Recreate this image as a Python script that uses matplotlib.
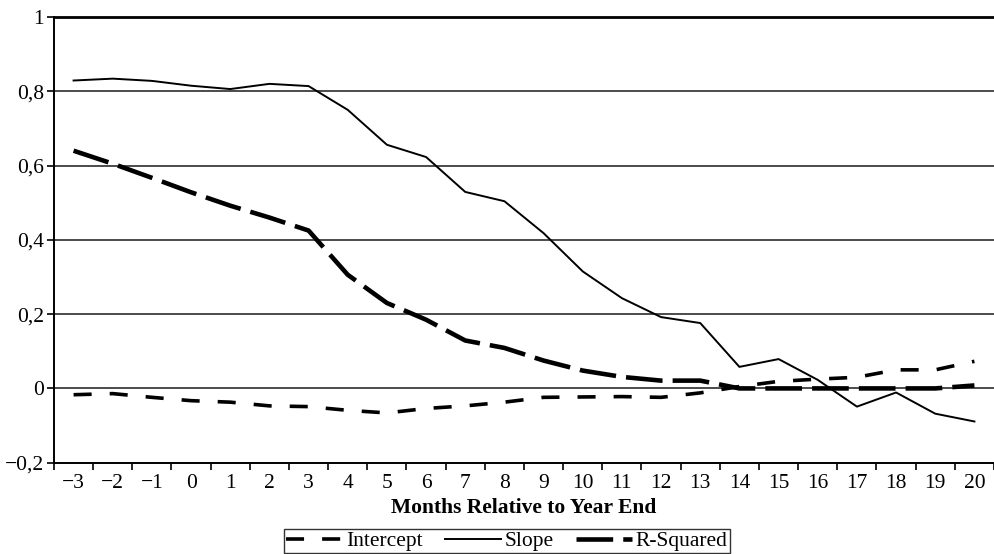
import matplotlib
matplotlib.use("Agg")
import matplotlib.pyplot as plt
from matplotlib.ticker import FixedLocator

months = list(range(-3, 21))
intercept = [-0.017, -0.014, -0.024, -0.033, -0.037, -0.047, -0.049, -0.059, -0.066, -0.054,
             -0.047, -0.037, -0.024, -0.023, -0.022, -0.024, -0.012, 0.005, 0.019, 0.025,
             0.030, 0.050, 0.050, 0.073]
slope = [0.829, 0.834, 0.828, 0.815, 0.806, 0.820, 0.814, 0.750, 0.656, 0.623,
         0.529, 0.504, 0.418, 0.315, 0.243, 0.192, 0.176, 0.058, 0.079, 0.023,
         -0.049, -0.011, -0.068, -0.089]
rsquared = [0.640, 0.605, 0.567, 0.528, 0.492, 0.460, 0.425, 0.306, 0.230, 0.185,
            0.129, 0.109, 0.075, 0.048, 0.031, 0.021, 0.021, 0.0, 0.0, 0.0,
            0.0, 0.0, 0.0, 0.008]
ytick_vals = [-0.2, 0, 0.2, 0.4, 0.6, 0.8, 1.0]
ytick_labels = ["\u22120,2", "0", "0,2", "0,4", "0,6", "0,8", "1"]
xtick_labels = [("\u2212" + str(-m)) if m < 0 else str(m) for m in months]

plt.rcParams['font.family'] = ['Liberation Serif', 'DejaVu Serif']
FS = 15.5

fig = plt.figure(figsize=(9.95, 5.54), dpi=100)
ax = fig.add_axes([54/995, (554-462.7)/554, (994-54)/995, (462.7-17)/554])

for v in ytick_vals[1:-1]:
    ax.axhline(v, color='#1a1a1a', lw=1.1, zorder=1)

ax.plot(months, intercept, color='black', lw=2.6, dashes=(5, 5), label='Intercept',
        solid_capstyle='butt', dash_capstyle='butt', zorder=3)
ax.plot(months, slope, color='black', lw=1.4, label='Slope', zorder=3)
ax.plot(months, rsquared, color='black', lw=3.3, dashes=(8, 2.2), label='R-Squared',
        dash_capstyle='butt', zorder=3)

ax.set_xlim(-3.5, 20.5)
ax.set_ylim(-0.2, 1.0)
ax.set_yticks(ytick_vals)
ax.set_yticklabels(ytick_labels)
ax.set_xticks(months)
ax.set_xticklabels(xtick_labels)
ax.xaxis.set_minor_locator(FixedLocator([m - 0.5 for m in months] + [20.5]))
ax.tick_params(axis='x', which='major', length=0, labelsize=FS, pad=8, colors='black')
ax.tick_params(axis='x', which='minor', length=5, width=1.2, direction='out')
ax.tick_params(axis='y', which='major', length=5, width=1.2, labelsize=FS, pad=2)

ax.spines['right'].set_visible(False)
ax.spines['top'].set_linewidth(2.0)
ax.spines['left'].set_linewidth(1.4)
ax.spines['bottom'].set_linewidth(1.4)

ax.set_xlabel("Months Relative to Year End", fontsize=FS, fontweight='bold', labelpad=4)

leg = fig.legend(loc='upper center', bbox_to_anchor=(507/995, 1 - 529/554), ncol=3,
                 fontsize=FS, frameon=True, fancybox=False, edgecolor='black',
                 handlelength=2.6, handletextpad=0.2, columnspacing=1.0,
                 borderpad=0.1, borderaxespad=0)
leg.get_frame().set_linewidth(1.0)

fig.savefig("out.png", dpi=100)
